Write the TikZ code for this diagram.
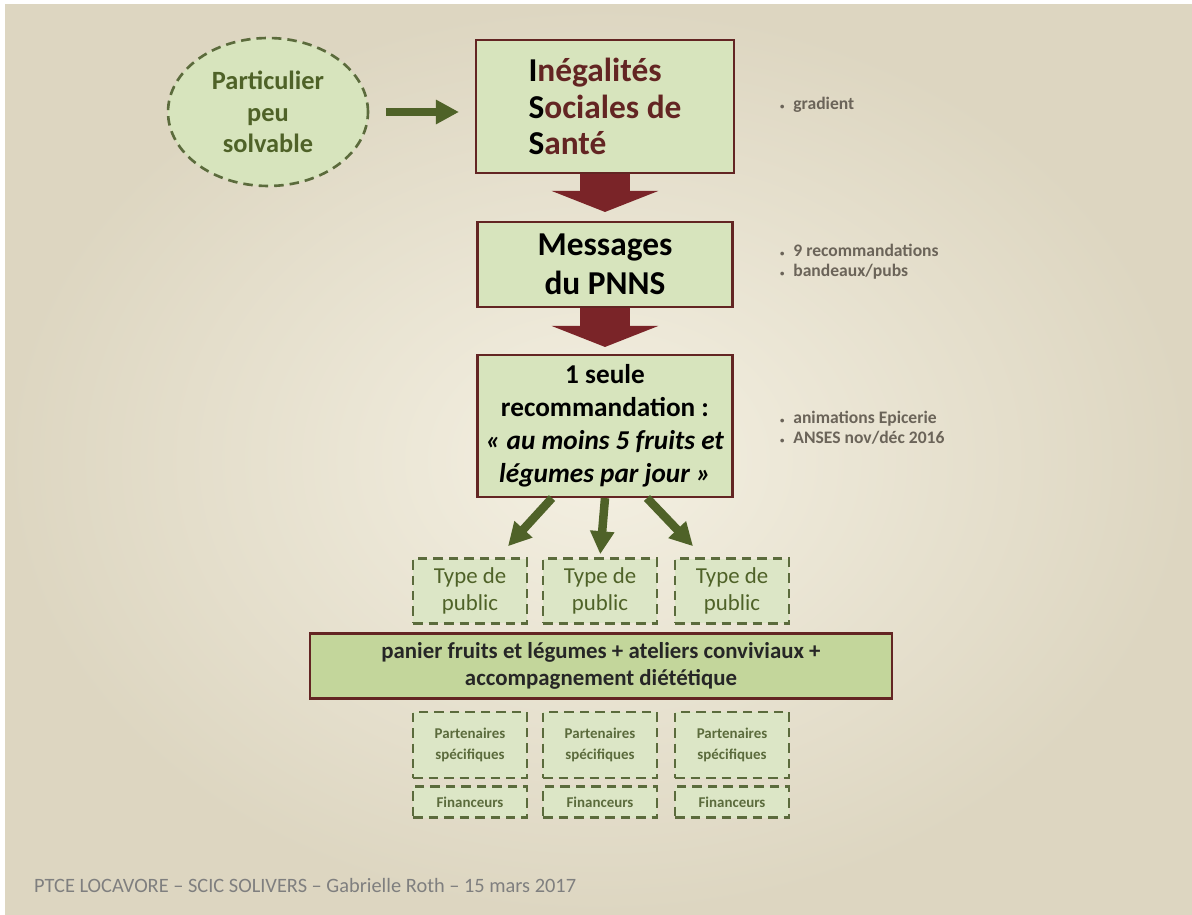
\documentclass[tikz,border=0pt]{standalone}
\usepackage{fontspec}
\setmainfont{Carlito}
\usetikzlibrary{arrows.meta,positioning,calc,shapes.geometric}

\definecolor{bgouter}{HTML}{DDD6C1}
\definecolor{bginner}{HTML}{F4F0E2}
\definecolor{boxgreen}{HTML}{D7E4BD}
\definecolor{palegreen}{HTML}{DCE6C6}
\definecolor{midgreen}{HTML}{C3D69B}
\definecolor{boxred}{HTML}{632523}
\definecolor{arrowred}{HTML}{7A2428}
\definecolor{olive}{HTML}{4F6228}
\definecolor{dashgreen}{HTML}{5B6B3C}
\definecolor{notegray}{HTML}{6B6459}
\definecolor{footgray}{HTML}{7F7F7F}

\begin{document}
\begin{tikzpicture}[x=0.02cm, y=-0.02cm,
    box/.style={draw=boxred, line width=1.2pt, fill=boxgreen, align=center, inner sep=2pt},
    dashed line/.style={draw=dashgreen, line width=1.5pt, dash pattern=on 0.19cm off 0.12cm},
    dashbox/.style={dashed line, fill=palegreen, align=center, inner sep=1pt, minimum width=2.28cm},
    bigarrow/.style={draw=arrowred, line width=1cm, -{Triangle[width=2.12cm,length=0.42cm]}},
    greenarrow/.style={draw=olive, line width=0.17cm, -{Triangle[width=0.46cm,length=0.46cm]}},
    note/.style={anchor=west, align=left, text=notegray, font=\bfseries\fontsize{10}{11.4}\selectfont}]

    % Background
    \fill[white] (0,0) rectangle (1192,915);
    \shade[inner color=bginner, outer color=bgouter] (5,5) rectangle (1192,915);

    % Top row
    \node[ellipse, dashed line, fill=boxgreen, minimum width=4cm, minimum height=2.96cm,
      align=center, text=olive, font=\bfseries\fontsize{15}{18}\selectfont] (solv) at (268,112)
      {Particulier\\peu\\solvable};
    \node[box, minimum width=5.16cm, minimum height=2.66cm, align=left, text=boxred,
      font=\bfseries\fontsize{19}{21}\selectfont] (iss) at (605,106.5)
      {\textcolor{black}{I}négalités\\\textcolor{black}{S}ociales de\\\textcolor{black}{S}anté};

    % Middle column
    \node[box, minimum width=5.1cm, minimum height=1.7cm,
      font=\bfseries\fontsize{19}{22}\selectfont] (pnns) at (605,264.5)
      {Messages\\du PNNS};
    \node[box, minimum width=5.1cm, minimum height=2.84cm,
      font=\bfseries\fontsize{15.5}{18.7}\selectfont] (reco) at (605,426)
      {1 seule\\recommandation :\\\textit{« au moins 5 fruits et}\\\textit{légumes par jour »}};

    % Notes
    \node[note] (n1) at (774,105) {{\tiny\textbullet}\enspace gradient};
    \node[note] (n2) at (774,261.5) {{\tiny\textbullet}\enspace 9 recommandations\\{\tiny\textbullet}\enspace bandeaux/pubs};
    \node[note] (n3) at (774,428) {{\tiny\textbullet}\enspace animations Epicerie\\{\tiny\textbullet}\enspace ANSES nov/déc 2016};

    % Public, partners, funders
    \foreach \i/\x in {1/470, 2/600, 3/732} {
      \node[dashbox, minimum height=1.3cm, text=olive, font=\fontsize{13}{15.3}\selectfont]
        (pub\i) at (\x,591) {Type de\\public};
      \node[dashbox, minimum height=1.32cm, text=dashgreen, font=\bfseries\fontsize{8.5}{12}\selectfont]
        (part\i) at (\x,745) {Partenaires\\spécifiques};
      \node[dashbox, minimum height=0.62cm, text=dashgreen, font=\bfseries\fontsize{8.5}{12}\selectfont]
        (fin\i) at (\x,802) {Financeurs};
    }
    \node[box, fill=midgreen, minimum width=11.64cm, minimum height=1.3cm, text=black!85,
      font=\bfseries\fontsize{13}{15.3}\selectfont] (panier) at (601,666)
      {panier fruits et légumes + ateliers conviviaux +\\accompagnement diététique};

    % Arrows
    \draw[greenarrow, shorten <=0.34cm, shorten >=0.32cm] (solv.east) -- (solv.east -| iss.west);
    \draw[bigarrow, shorten >=0.18cm] (iss.south) -- (pnns.north);
    \draw[bigarrow, shorten >=0.14cm] (pnns.south) -- (reco.north);
    \draw[greenarrow] ([xshift=-1.06cm]reco.south) -- ([xshift=0.76cm, yshift=0.22cm]pub1.north);
    \draw[greenarrow, shorten >=0.06cm] (reco.south) -- (pub2.north);
    \draw[greenarrow] ([xshift=0.84cm]reco.south) -- ([xshift=-0.78cm, yshift=0.22cm]pub3.north);

    % Footer
    \node[anchor=west, text=footgray, font=\fontsize{11.6}{13}\selectfont] (foot) at (28,885)
      {PTCE LOCAVORE – SCIC SOLIVERS – Gabrielle Roth – 15 mars 2017};
\end{tikzpicture}
\end{document}
